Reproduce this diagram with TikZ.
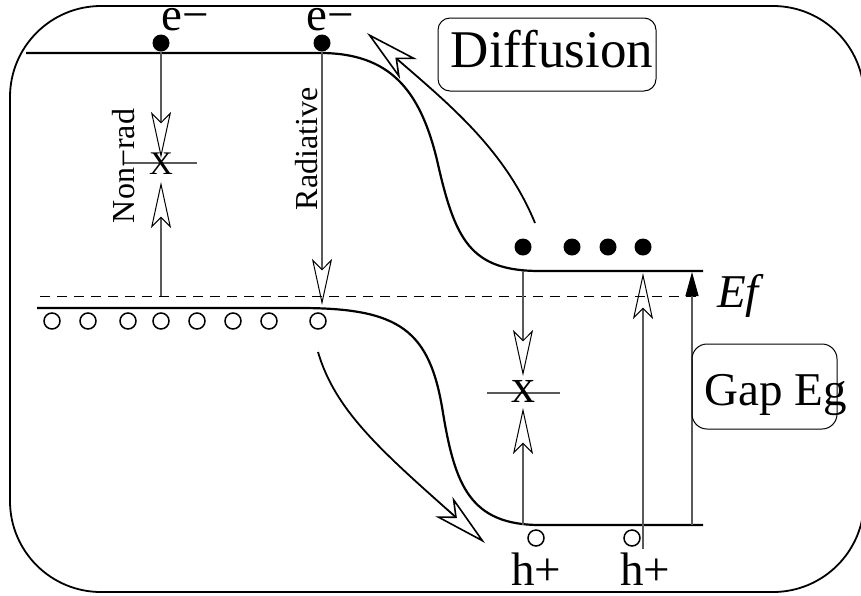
\documentclass[tikz,border=0pt]{standalone}
\usepackage{fontspec}
\setmainfont{Liberation Serif}
\usetikzlibrary{arrows.meta}
\begin{document}
\begin{tikzpicture}[x=1pt,y=-1pt,
  band/.style={line width=2.2pt},
  vline/.style={line width=1.2pt, draw=black!65},
  openhead/.style={-{Stealth[open,length=46pt,width=20pt,inset=10pt,line width=1pt,color=black]}},
  bighead/.style={-{Stealth[open,length=55pt,width=26pt,inset=15pt,line width=1.6pt,color=black]}},
  solidhead/.style={-{Triangle[length=24pt,width=13pt,color=black]}},
  electron/.style={circle, fill=black, minimum size=17pt, inner sep=0pt},
  hole/.style={circle, draw, line width=1.5pt, minimum size=16pt, inner sep=0pt},
  bigtxt/.style={font=\fontsize{47}{50}\selectfont, inner sep=0pt},
  midtxt/.style={font=\fontsize{32}{34}\selectfont, inner sep=0pt},
  labelbox/.style={draw, line width=1pt, inner sep=0pt}
]
\useasboundingbox (0,0) rectangle (861,595);
% outer frame
\draw[line width=1.8pt, rounded corners=91pt] (10,6) rectangle (864,592);

% coordinates
\coordinate (cbL) at (26,53);
\coordinate (cbR) at (703,271);
\coordinate (vbL) at (37,308);
\coordinate (vbR) at (703,525);
\coordinate (fL) at (40,296);
\coordinate (fR) at (703,296);

% bands
\draw[band] (cbL) -- (320,53) .. controls (390,53) and (420,90) .. (437,160)
  .. controls (455,240) and (470,271) .. (540,271) -- (cbR);
\draw[band] (vbL) -- (300,308) .. controls (400,308) and (430,330) .. (443,413)
  .. controls (455,485) and (470,525) .. (540,525) -- (vbR);
\draw[line width=1pt, dash pattern=on 10pt off 7pt] (fL) -- (fR);

% electrons
\node[electron] (e1) at (161,43) {};
\node[electron] (e2) at (322,43) {};
\node[electron] (r1) at (523,247) {};
\node[electron] (r2) at (572,247) {};
\node[electron] (r3) at (608,247) {};
\node[electron] (r4) at (643,247) {};
\node[bigtxt, anchor=base, text height=22pt] (le1) at (185,30) {e−};
\node[bigtxt, anchor=base, text height=22pt] (le2) at (330,30) {e−};

% holes
\foreach \x [count=\i] in {52,88,128,161,197,233,269,318}
  \node[hole] (h\i) at (\x,321) {};
\node[hole] (b1) at (536,538) {};
\node[hole] (b2) at (632,538) {};
\node[bigtxt, anchor=base] (lh1) at (536,585) {h+};
\node[bigtxt, anchor=base] (lh2) at (645,585) {h+};

% non-radiative (left)
\coordinate (nrA) at (161,158);
\coordinate (nrB) at (161,296);
\coordinate (nrC) at (161,182);
\coordinate (nrL) at (123,163);
\coordinate (nrR) at (197,163);
\draw[vline, openhead] (e1.south) -- (nrA);
\draw[vline, openhead] (nrB) -- (nrC);
\draw[vline] (nrL) -- (nrR);
\node[font=\fontsize{33}{33}\selectfont, inner sep=0pt] (nrX) at (161,164) {X};
\node[midtxt, rotate=90] (nrT) at (124,166) {Non−rad};

% radiative
\coordinate (radTip) at (322,305);
\draw[vline, openhead] (e2.south) -- (radTip);
\node[midtxt, rotate=90] (radT) at (307,149) {Radiative};

% non-radiative (right)
\coordinate (c1) at (523,271);
\coordinate (rA) at (523,376);
\coordinate (v1) at (523,525);
\coordinate (rB) at (523,408);
\coordinate (rL) at (487,393);
\coordinate (rR) at (560,393);
\draw[vline, openhead] (c1) -- (rA);
\draw[vline, openhead] (v1) -- (rB);
\draw[vline] (rL) -- (rR);
\node[font=\fontsize{48}{48}\selectfont, inner sep=0pt] (rX) at (523,391) {x};

% absorption arrow
\coordinate (aB) at (643,549);
\coordinate (aT) at (643,273);
\draw[vline, openhead] (aB) -- (aT);

% gap arrow
\coordinate (gB) at (692,525);
\coordinate (gT) at (692,272);
\draw[vline, solidhead] (gB) -- (gT);

% diffusion arrows
\coordinate (dS) at (535,223);
\coordinate (dT) at (367,33);
\draw[line width=1.8pt, bighead] (dS) .. controls (505,150) and (450,105) .. (dT);
\coordinate (lS) at (318,352);
\coordinate (lT) at (485,543);
\draw[line width=1.8pt, bighead] (lS) .. controls (335,410) and (380,450) .. (lT);

% labels
\node[labelbox, rounded corners=12pt, minimum width=218pt, minimum height=73pt] (dbox) at (547,54.5) {};
\node[font=\fontsize{53}{55}\selectfont, inner sep=0pt, anchor=base] (dtext) at (552,67) {Diffusion};
\node[labelbox, rounded corners=15pt, minimum width=145pt, minimum height=85pt] (gbox) at (764.5,386.5) {};
\node[bigtxt, anchor=base] (gtext) at (776,405) {Gap Eg};
\node[bigtxt, anchor=base west] (ef) at (717,307) {\itshape Ef};
\end{tikzpicture}
\end{document}
